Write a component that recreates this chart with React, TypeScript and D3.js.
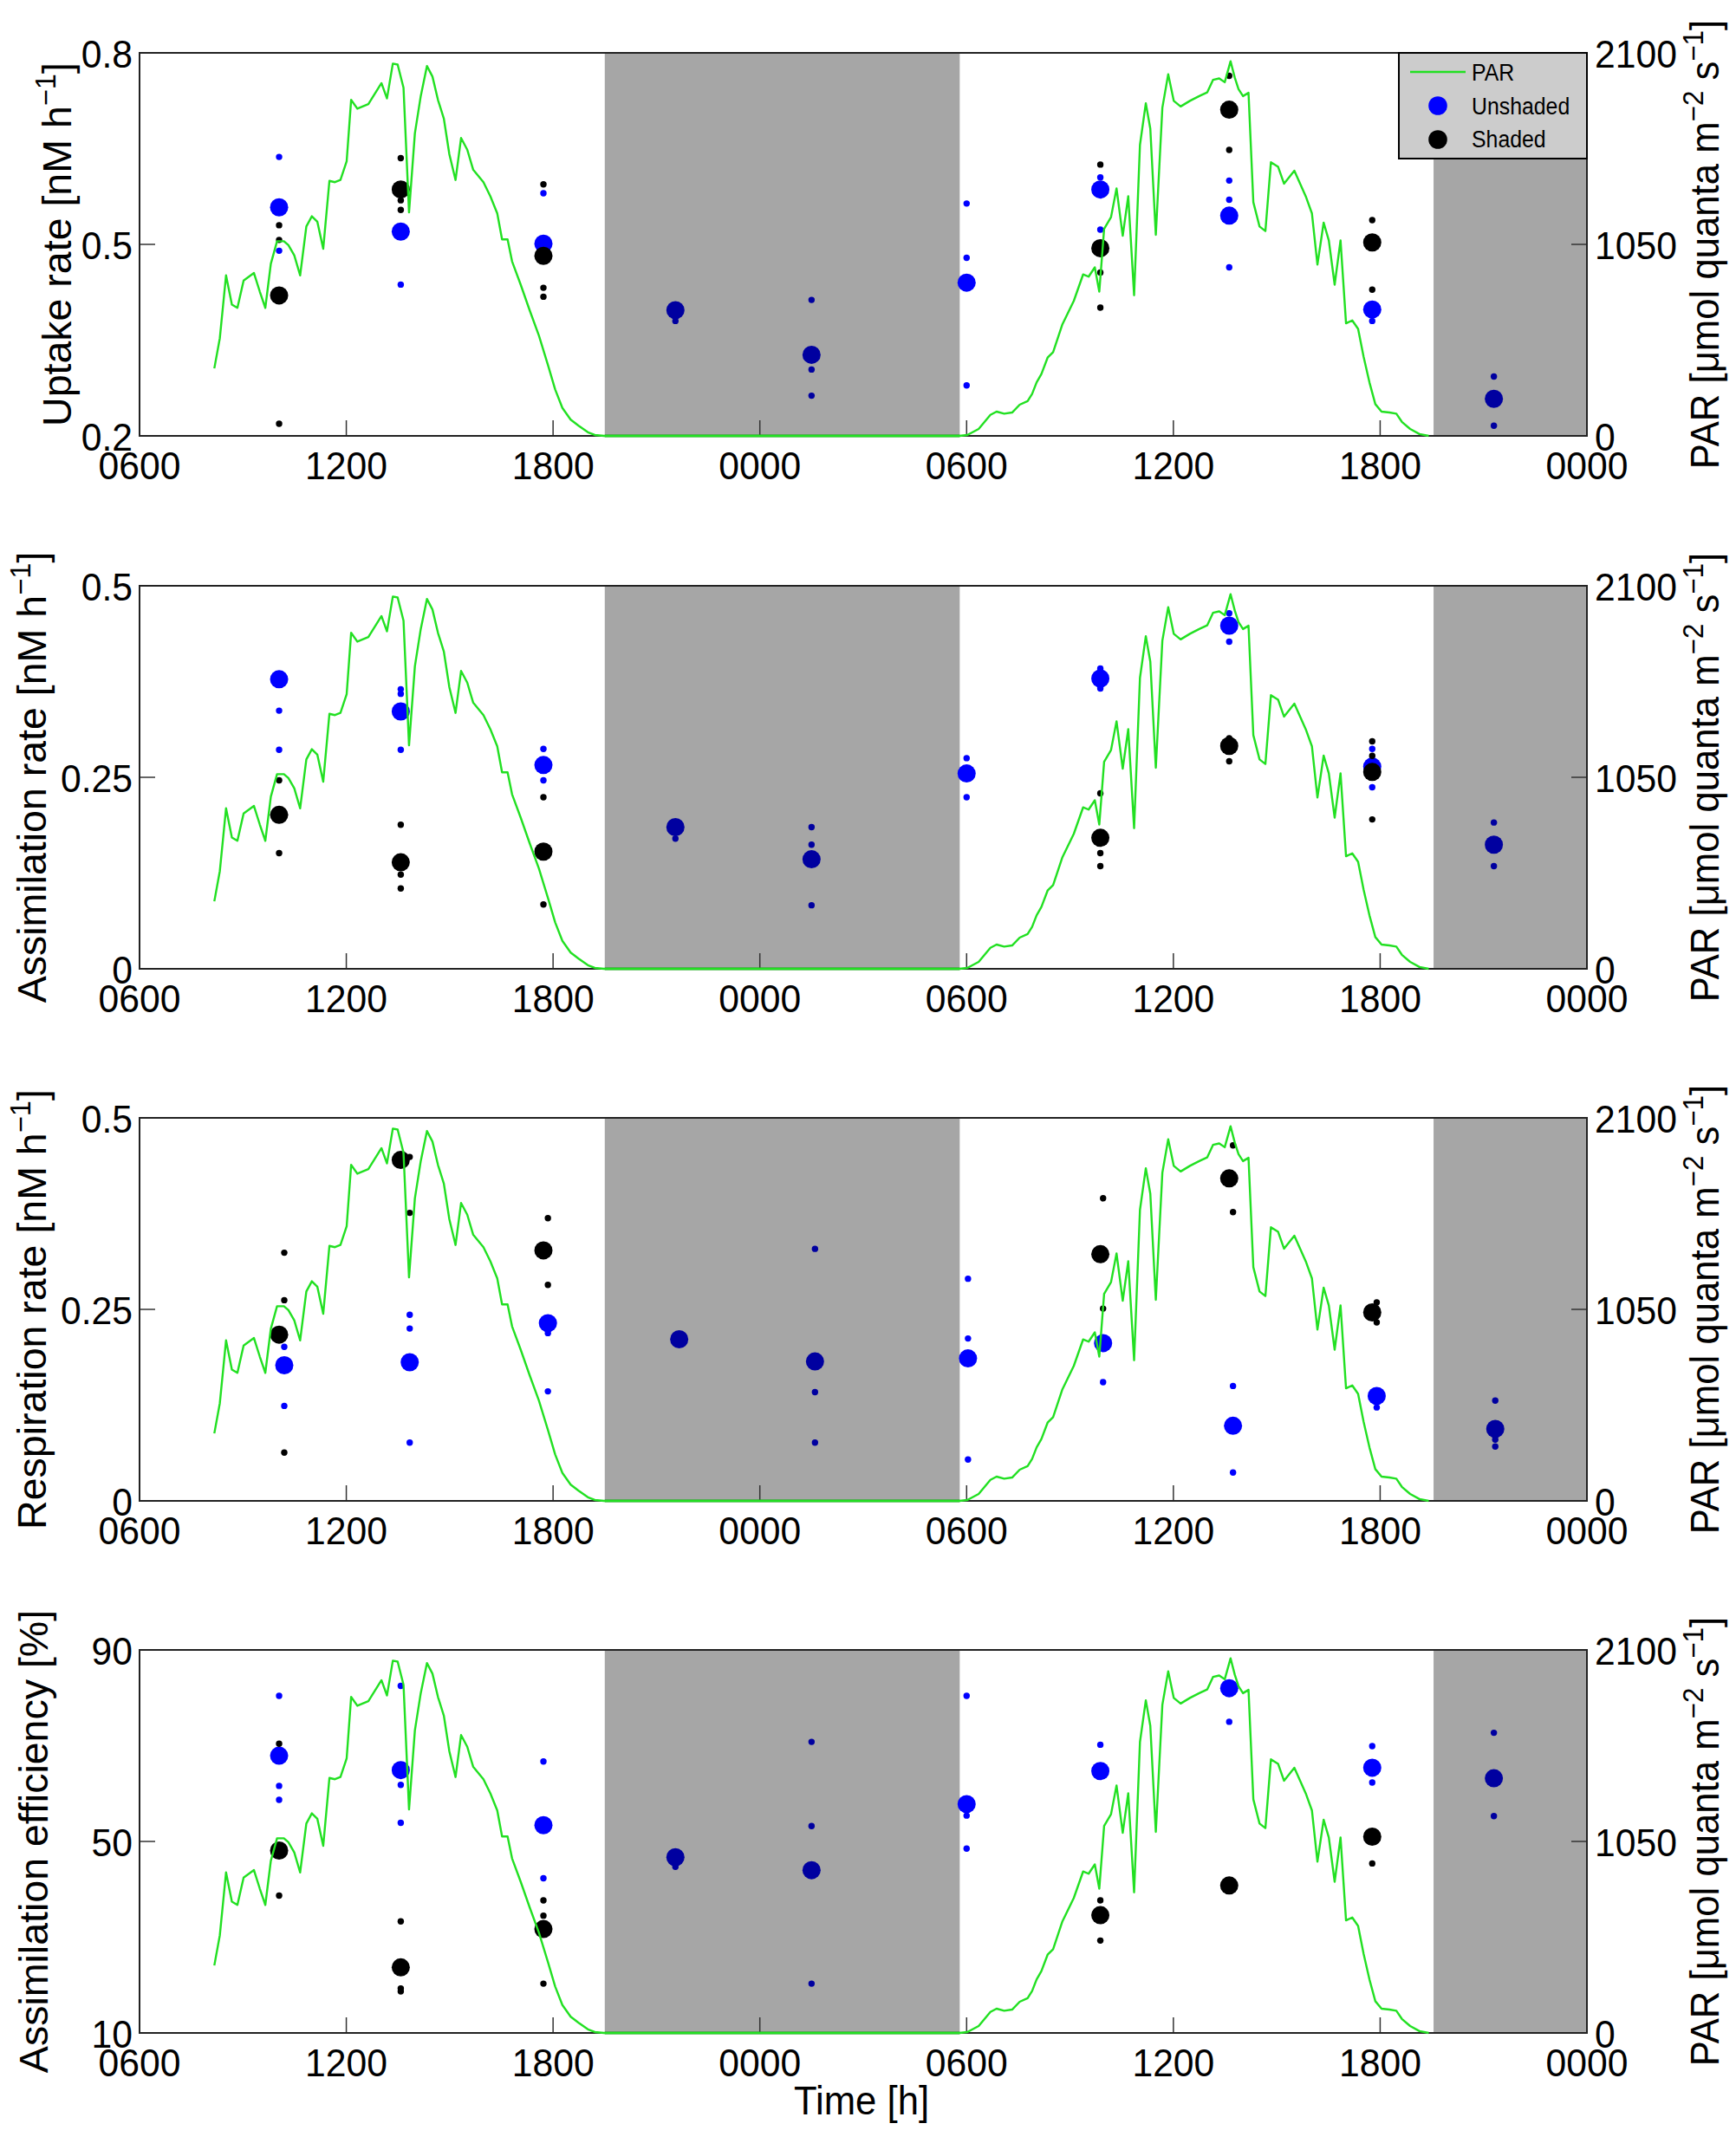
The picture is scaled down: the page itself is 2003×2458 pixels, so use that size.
import React, { useEffect } from 'react';
import * as d3 from 'd3';

// time axis: hours after 06:00 on day 1
const xTickHours = [0, 6, 12, 18, 24, 30, 36, 42];
const xTickLabels = ['0600', '1200', '1800', '0000', '0600', '1200', '1800', '0000'];
const nightSpans = [[13.5, 23.8], [37.55, 42]];

// sampling times (same index in every series)
const sampleHours = [4.05, 7.58, 11.72, 15.55, 19.5, 24.0, 27.88, 31.62, 35.77, 39.3];
const respSampleHours = [4.2, 7.84, 11.85, 15.66, 19.6, 24.04, 27.96, 31.73, 35.9, 39.34];

// PAR [umol quanta m-2 s-1]
const parHours = [
  2.17, 2.33, 2.51, 2.68, 2.84, 3.02, 3.32, 3.49, 3.65, 3.81, 3.99, 4.19, 4.32, 4.49, 4.66, 4.84, 5.0, 5.16,
  5.33, 5.51, 5.67, 5.83, 6.01, 6.14, 6.32, 6.64, 7.02, 7.18, 7.35, 7.49, 7.66, 7.82, 7.99, 8.16, 8.34, 8.5,
  8.66, 8.83, 8.99, 9.17, 9.33, 9.51, 9.68, 9.98, 10.18, 10.38, 10.52, 10.68, 10.81, 11.06, 11.32, 11.59,
  11.86, 12.06, 12.27, 12.51, 12.74, 13.01, 13.21, 13.48,
  23.79, 24.02, 24.35, 24.69, 24.87, 25.09, 25.32, 25.54, 25.77, 25.9, 26.03, 26.17, 26.35, 26.51, 26.78,
  27.11, 27.38, 27.54, 27.72, 27.85, 27.99, 28.19, 28.35, 28.53, 28.69, 28.86, 29.03, 29.2, 29.33, 29.49,
  29.68, 29.85, 30.01, 30.21, 30.48, 30.75, 30.98, 31.15, 31.33, 31.49, 31.66, 31.78, 31.89, 32.02, 32.18,
  32.32, 32.5, 32.67, 32.83, 33.04, 33.21, 33.51, 33.84, 34.02, 34.18, 34.36, 34.51, 34.68, 34.85, 35.01,
  35.19, 35.36, 35.52, 35.69, 35.86, 36.04, 36.27, 36.47, 36.63, 36.87, 37.14, 37.41
];
const parValues = [
  370, 536, 880, 720, 702, 852, 893, 791, 702, 944, 1067, 1067, 1046, 990, 880, 1148, 1204, 1174,
  1026, 1398, 1391, 1403, 1505, 1842, 1794, 1819, 1934, 1850, 2041, 2036, 1909, 1225, 1659, 1863, 2028, 1970,
  1842, 1740, 1544, 1403, 1633, 1569, 1460, 1391, 1314, 1220, 1077, 1077, 957, 829, 689, 549,
  383, 255, 153, 89, 56, 20, 5, 0,
  0, 5, 38, 115, 133, 122, 128, 171, 191, 230, 293, 339, 429, 459, 612,
  740, 885, 873, 924, 791, 1135, 1199, 1357, 1097, 1314, 771, 1595, 1824, 1684, 1102,
  1799, 1983, 1837, 1806, 1837, 1863, 1883, 1952, 1960, 1939, 2054, 1965, 1901, 1863, 1881,
  1281, 1148, 1123, 1500, 1475, 1383, 1454, 1314, 1220, 939, 1169, 1072, 829, 1072, 617,
  633, 587, 434, 293, 174, 133, 128, 122, 77, 38, 10, 0
];

// Uptake rate [nM h-1]
const uptakeUnshaded = [0.558, 0.52, 0.501, null, null, 0.44, 0.586, 0.545, 0.398, null];
const uptakeUnshadedReps = [[0.637, 0.49], [0.437], [0.58], [], [], [0.564, 0.479, 0.279], [0.605, 0.523], [0.6, 0.57, 0.464], [0.38], []];
const uptakeShaded = [0.42, 0.586, 0.482, null, null, null, 0.494, 0.711, 0.503, null];
const uptakeShadedReps = [[0.53, 0.507, 0.219], [0.635, 0.569, 0.554], [0.594, 0.432, 0.418], [], [], [], [0.625, 0.456, 0.401], [0.764, 0.648], [0.538, 0.429], []];
const uptakeDark = [null, null, null, 0.397, 0.327, null, null, null, null, 0.258];
const uptakeDarkReps = [[], [], [], [0.38], [0.413, 0.304, 0.263], [], [], [], [], [0.293, 0.216]];

// Assimilation rate [nM h-1]
const assimUnshaded = [0.378, 0.336, 0.266, null, null, 0.255, 0.379, 0.448, 0.264, null];
const assimUnshadedReps = [[0.337, 0.286], [0.365, 0.359, 0.286], [0.287, 0.246], [], [], [0.275, 0.224], [0.392, 0.366], [0.464, 0.427], [0.287, 0.237], []];
const assimShaded = [0.201, 0.139, 0.153, null, null, null, 0.171, 0.291, 0.257, null];
const assimShadedReps = [[0.246, 0.151], [0.188, 0.123, 0.105], [0.224, 0.084], [], [], [], [0.229, 0.151, 0.134], [0.301, 0.271], [0.297, 0.278, 0.195], []];
const assimDark = [null, null, null, 0.185, 0.143, null, null, null, null, 0.162];
const assimDarkReps = [[], [], [], [0.17, 0.19], [0.185, 0.162, 0.083], [], [], [], [], [0.191, 0.134]];

// Respiration rate [nM h-1]
const respUnshaded = [0.177, 0.181, 0.232, null, null, 0.186, 0.206, 0.098, 0.137, null];
const respUnshadedReps = [[0.201, 0.124], [0.243, 0.225, 0.076], [0.219, 0.143], [], [], [0.29, 0.212, 0.054], [0.155], [0.15, 0.037], [0.122], []];
const respShaded = [0.217, 0.445, 0.327, null, null, null, 0.322, 0.421, 0.246, null];
const respShadedReps = [[0.324, 0.262, 0.063], [0.449, 0.376], [0.369, 0.282], [], [], [], [0.395, 0.251], [0.464, 0.377], [0.259, 0.233], []];
const respDark = [null, null, null, 0.211, 0.182, null, null, null, null, 0.094];
const respDarkReps = [[], [], [], [], [0.329, 0.142, 0.076], [], [], [], [], [0.131, 0.08, 0.071]];

// Assimilation efficiency [%]
const effUnshaded = [67.9, 64.9, 53.4, null, null, 57.8, 64.7, 82.0, 65.4, null];
const effUnshadedReps = [[80.4, 61.6, 58.7], [82.5, 61.8, 53.9], [66.7, 42.3], [], [], [80.4, 55.4, 48.5], [70.2], [75.0], [69.9, 62.3], []];
const effShaded = [48.1, 23.7, 31.7, null, null, null, 34.6, 40.8, 51.0, null];
const effShadedReps = [[70.4, 38.7], [33.3, 19.3, 18.7], [37.7, 34.5, 20.3], [], [], [], [37.7, 29.3], [], [45.4], []];
const effDark = [null, null, null, 46.7, 44.0, null, null, null, null, 63.2];
const effDarkReps = [[], [], [], [44.7], [70.8, 53.2, 20.3], [], [], [], [], [72.7, 55.3]];

const parTicks = [0, 1050, 2100];

const W = 2003;
const H = 2458;
const plotLeft = 161;
const plotRight = 1831;
const panelTops = [61, 676, 1290, 1904];
const panelH = 442;
const FONT = 'Liberation Sans, Arial, Helvetica, sans-serif';
const BLUE = '#0000ff';
const DARK = '#0000a0';
const GREEN = '#22e022';

const panels = [
  { label: 'Uptake rate [nM h', sup: '−1', tail: ']', labelX: 82, domain: [0.2, 0.8], ticks: [0.2, 0.5, 0.8],
    u: uptakeUnshaded, ur: uptakeUnshadedReps, s: uptakeShaded, sr: uptakeShadedReps, d: uptakeDark, dr: uptakeDarkReps,
    uT: sampleHours, sT: sampleHours, rT: sampleHours, legend: true },
  { label: 'Assimilation rate [nM h', sup: '−1', tail: ']', labelX: 53, domain: [0, 0.5], ticks: [0, 0.25, 0.5],
    u: assimUnshaded, ur: assimUnshadedReps, s: assimShaded, sr: assimShadedReps, d: assimDark, dr: assimDarkReps,
    uT: sampleHours, sT: sampleHours, rT: sampleHours, legend: false },
  { label: 'Respiration rate [nM h', sup: '−1', tail: ']', labelX: 53, domain: [0, 0.5], ticks: [0, 0.25, 0.5],
    u: respUnshaded, ur: respUnshadedReps, s: respShaded, sr: respShadedReps, d: respDark, dr: respDarkReps,
    uT: respSampleHours, sT: sampleHours, rT: respSampleHours, legend: false },
  { label: 'Assimilation efficiency [%]', sup: '', tail: '', labelX: 55, domain: [10, 90], ticks: [10, 50, 90],
    u: effUnshaded, ur: effUnshadedReps, s: effShaded, sr: effShadedReps, d: effDark, dr: effDarkReps,
    uT: sampleHours, sT: sampleHours, rT: sampleHours, legend: false },
];

const T = ({ x, y, rot = 0, anchor = 'start', size = 44, sx = 0.97, children }: any) => (
  <text
    transform={`translate(${x},${y})${rot ? ` rotate(${rot})` : ''} scale(${sx},1)`}
    textAnchor={anchor}
    fontSize={size}
    fontFamily={FONT}
    fill="#000"
  >
    {children}
  </text>
);

const Dots = ({ means, reps, times, repTimes, color, x, y }: any) => (
  <g fill={color}>
    {means.map((m: number | null, i: number) =>
      m == null ? null : (
        <g key={i}>
          {reps[i].map((r: number, j: number) => (
            <circle key={j} cx={x(repTimes[i])} cy={y(r)} r={3.7} />
          ))}
          <circle cx={x(times[i])} cy={y(m)} r={10.5} />
        </g>
      )
    )}
  </g>
);

const Panel = ({ p, top }: any) => {
  const x = d3.scaleLinear().domain([0, 42]).range([plotLeft, plotRight]);
  const y = d3.scaleLinear().domain(p.domain).range([top + panelH, top]);
  const yPar = d3.scaleLinear().domain([0, 2100]).range([top + panelH, top]);
  const parLine = d3
    .line<number>()
    .x((_, i) => x(parHours[i]))
    .y((v) => yPar(v));
  const parPath = parLine(parValues);
  const bottom = top + panelH;
  const midY = y(p.ticks[1]);
  const midPar = yPar(parTicks[1]);
  const cy = top + panelH / 2;

  return (
    <g>
      <rect x={plotLeft} y={top} width={plotRight - plotLeft} height={panelH} fill="#fff" />
      {nightSpans.map(([a, b], i) => (
        <rect key={i} x={x(a)} y={top} width={x(b) - x(a)} height={panelH} fill="#a6a6a6" />
      ))}
      <Dots means={p.u} reps={p.ur} times={p.uT} repTimes={p.rT} color={BLUE} x={x} y={y} />
      <Dots means={p.s} reps={p.sr} times={p.sT} repTimes={p.rT} color="#000" x={x} y={y} />
      <Dots means={p.d} reps={p.dr} times={p.uT} repTimes={p.rT} color={DARK} x={x} y={y} />
      {/* inward ticks */}
      <g stroke="#333" strokeWidth={1.5}>
        {xTickHours.slice(1, -1).map((h) => (
          <line key={h} x1={x(h)} x2={x(h)} y1={bottom} y2={bottom - 18} />
        ))}
        <line x1={plotLeft} x2={plotLeft + 18} y1={midY} y2={midY} />
        <line x1={plotRight} x2={plotRight - 18} y1={midPar} y2={midPar} />
      </g>
      <rect x={plotLeft} y={top} width={plotRight - plotLeft} height={panelH} fill="none" stroke="#222" strokeWidth={2} />
      <line x1={x(13.5)} x2={x(23.8)} y1={bottom} y2={bottom} stroke="#2a8a2a" strokeWidth={3} />
      <path d={parPath || ''} fill="none" stroke={GREEN} strokeWidth={2.4} strokeLinejoin="round" />
      {xTickHours.map((h, i) => (
        <T key={h} x={x(h)} y={bottom + 50} anchor="middle">
          {xTickLabels[i]}
        </T>
      ))}
      {p.ticks.map((t: number) => (
        <T key={t} x={plotLeft - 8} y={y(t) + 17} anchor="end">
          {String(t)}
        </T>
      ))}
      {parTicks.map((t) => (
        <T key={t} x={plotRight + 9} y={yPar(t) + 17}>
          {String(t)}
        </T>
      ))}
      <T x={p.labelX} y={cy} rot={-90} anchor="middle" size={47} sx={0.99}>
        {p.label}
        {p.sup ? (
          <tspan dy={-18} fontSize={33}>
            {p.sup}
          </tspan>
        ) : null}
        {p.tail ? <tspan dy={p.sup ? 18 : 0}>{p.tail}</tspan> : null}
      </T>
      <T x={1983} y={cy} rot={-90} anchor="middle" size={46} sx={0.95}>
        PAR [μmol quanta m
        <tspan dy={-18} fontSize={33}>
          −2
        </tspan>
        <tspan dy={18}> s</tspan>
        <tspan dy={-18} fontSize={33}>
          −1
        </tspan>
        <tspan dy={18}>]</tspan>
      </T>
      {p.legend ? (
        <g>
          <rect x={1614} y={top} width={plotRight - 1614} height={122} fill="#cccccc" stroke="#000" strokeWidth={2} />
          <line x1={1627} x2={1691} y1={top + 22} y2={top + 22} stroke={GREEN} strokeWidth={2.4} />
          <T x={1698} y={top + 32} size={27} sx={0.92}>PAR</T>
          <circle cx={1659} cy={top + 61} r={10.8} fill={BLUE} />
          <T x={1698} y={top + 71} size={27} sx={0.92}>Unshaded</T>
          <circle cx={1659} cy={top + 100} r={10.8} fill="#000" />
          <T x={1698} y={top + 109} size={27} sx={0.92}>Shaded</T>
        </g>
      ) : null}
    </g>
  );
};

export default function App() {
  useEffect(() => {
    document.body.style.margin = '0';
  }, []);
  return (
    <svg width={W} height={H} viewBox={`0 0 ${W} ${H}`} style={{ display: 'block', background: '#fff' }}>
      <rect width={W} height={H} fill="#fff" />
      {panels.map((p, i) => (
        <Panel key={i} p={p} top={panelTops[i]} />
      ))}
      <T x={994} y={2440} anchor="middle" size={46} sx={0.95}>
        Time [h]
      </T>
    </svg>
  );
}
